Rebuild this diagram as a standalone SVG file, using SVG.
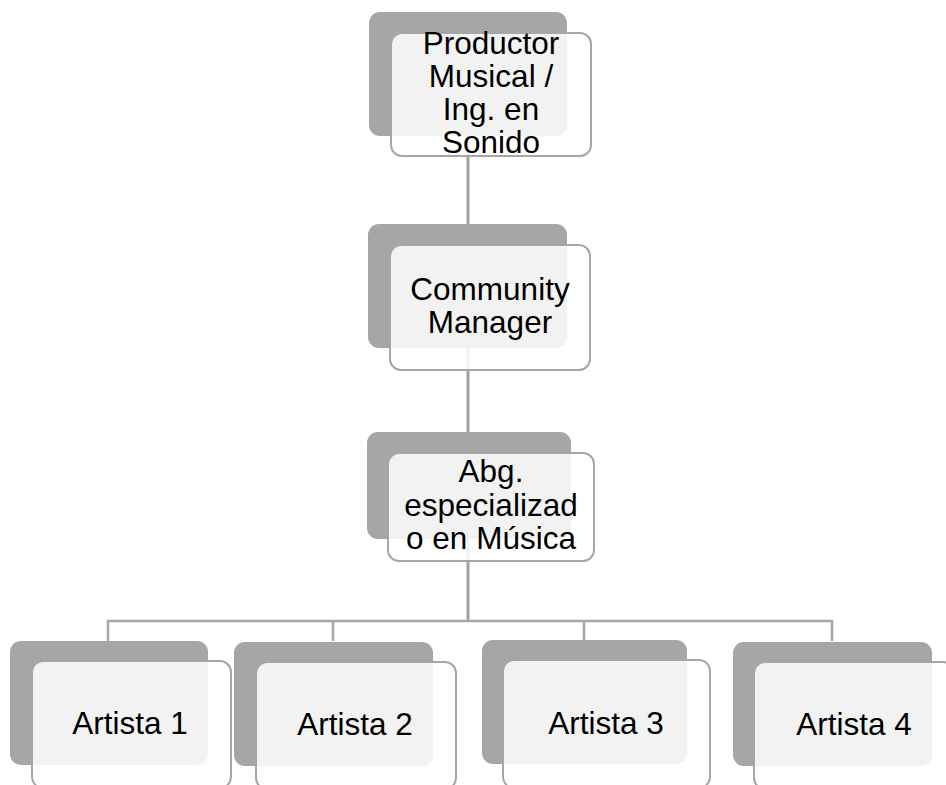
<svg xmlns="http://www.w3.org/2000/svg" width="946" height="785" viewBox="0 0 946 785">
<style>
.back{fill:#a6a6a6}
.front{fill:#ffffff;fill-opacity:0.86;stroke:#a6a6a6;stroke-width:2}
.t{font-family:"Liberation Sans",Arial,sans-serif;font-size:31.5px;fill:#000;text-anchor:middle}
.c{fill:none;stroke:#a0a0a0;stroke-width:3}
.b{fill:none;stroke:#a6a6a6;stroke-width:2.5}
</style>
<rect width="946" height="785" fill="#fff"/>
<g id="connectors">
<line class="c" x1="468" y1="136" x2="468" y2="224"/>
<line class="c" x1="468" y1="348" x2="468" y2="432"/>
<line class="c" x1="468" y1="539" x2="468" y2="621"/>
<polyline class="b" points="108,641 108,621 832,621 832,641"/>
<line class="b" x1="333" y1="621" x2="333" y2="641"/>
<line class="b" x1="584" y1="621" x2="584" y2="640"/>
</g>
<g id="n1">
<rect class="back" x="369" y="12" width="198" height="124" rx="11"/>
<rect class="front" x="391" y="33" width="200" height="123" rx="11"/>
<text class="t" x="491" y="54">Productor</text>
<text class="t" x="491" y="87">Musical /</text>
<text class="t" x="491" y="120">Ing. en</text>
<text class="t" x="491" y="153">Sonido</text>
</g>
<g id="n2">
<rect class="back" x="368" y="224" width="199" height="124" rx="11"/>
<rect class="front" x="390" y="245" width="200" height="125" rx="11"/>
<text class="t" x="490" y="300">Community</text>
<text class="t" x="490" y="333">Manager</text>
</g>
<g id="n3">
<rect class="back" x="367" y="432" width="204" height="107" rx="11"/>
<rect class="front" x="388" y="453" width="206" height="108" rx="11"/>
<text class="t" x="491" y="482">Abg.</text>
<text class="t" x="491" y="516">especializad</text>
<text class="t" x="491" y="549">o en Música</text>
</g>
<g id="a1">
<rect class="back" x="10" y="641" width="198" height="124" rx="11"/>
<rect class="front" x="32" y="661" width="199" height="127" rx="11"/>
<text class="t" x="130" y="734">Artista 1</text>
</g>
<g id="a2">
<rect class="back" x="234" y="642" width="199" height="124" rx="11"/>
<rect class="front" x="256" y="662" width="200" height="127" rx="11"/>
<text class="t" x="355" y="735">Artista 2</text>
</g>
<g id="a3">
<rect class="back" x="482" y="640" width="205" height="124" rx="11"/>
<rect class="front" x="503" y="660" width="207" height="128" rx="11"/>
<text class="t" x="606" y="734">Artista 3</text>
</g>
<g id="a4">
<rect class="back" x="733" y="642" width="199" height="124" rx="11"/>
<rect class="front" x="754" y="662" width="200" height="127" rx="11"/>
<text class="t" x="854" y="735">Artista 4</text>
</g>
</svg>
